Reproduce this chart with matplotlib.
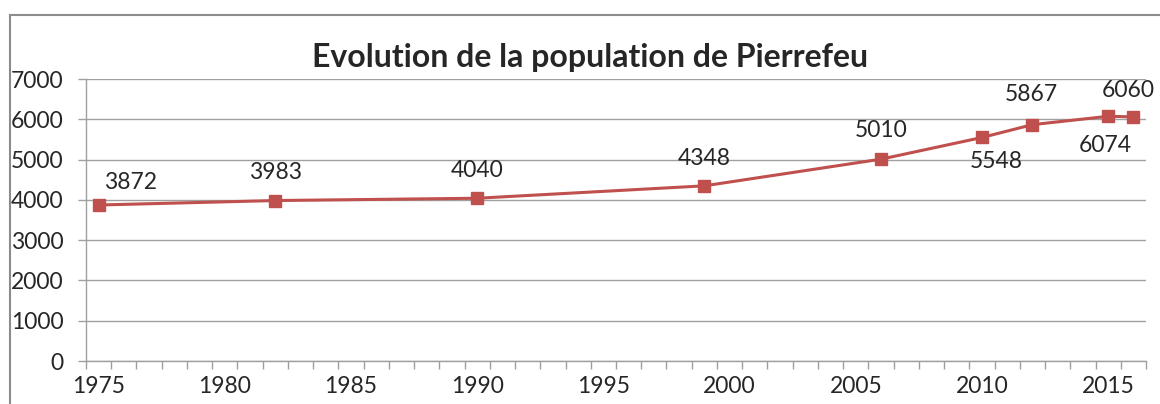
import numpy as np
import matplotlib
matplotlib.use('Agg')
import matplotlib.pyplot as plt
from matplotlib.lines import Line2D

# donnees
annees = [1975, 1982, 1990, 1999, 2006, 2010, 2012, 2015, 2016]
population = [3872, 3983, 4040, 4348, 5010, 5548, 5867, 6074, 6060]
annees_labels = [1975, 1980, 1985, 1990, 1995, 2000, 2005, 2010, 2015]
y_ticks = [0, 1000, 2000, 3000, 4000, 5000, 6000, 7000]

# decalage des etiquettes (points)
decalages = [(23, 16), (0, 20), (0, 20), (0, 20), (0, 21), (10, -17), (-1, 22), (-2, -21), (-4, 19)]

plt.rcParams['font.family'] = ['Lato', 'DejaVu Sans']

W, H = 1160, 404
fig = plt.figure(figsize=(W / 100, H / 100), dpi=100)
ax = fig.add_axes([86 / W, 1 - 361 / H, (1146 - 86) / W, (361 - 79) / H])

rouge = '#c0504d'
gris = '#a0a0a0'
texte = '#262626'

ax.plot(annees, population, color=rouge, lw=2.2, marker='s', markersize=8.5,
        markerfacecolor=rouge, markeredgecolor=rouge, zorder=3)

for x, y, (dx, dy) in zip(annees, population, decalages):
    ax.annotate(str(y), (x, y), xytext=(dx, dy), textcoords='offset points',
                ha='center', va='center', fontsize=16.5, color=texte)

ax.set_xlim(1974.5, 2016.5)
ax.set_ylim(0, 7000)
ax.set_yticks(y_ticks)
ax.set_yticklabels([str(v) for v in y_ticks], fontsize=16.5, color=texte)
ax.yaxis.grid(True, color=gris, lw=1)
ax.set_axisbelow(True)

# graduations entre les annees, etiquettes au milieu
ax.set_xticks(np.arange(1974.5, 2017, 1))
ax.set_xticklabels([])
ax.set_xticks(annees_labels, minor=True)
ax.set_xticklabels([str(a) for a in annees_labels], minor=True, fontsize=16.5, color=texte)
ax.tick_params(axis='x', which='major', direction='out', length=6, color=gris, width=1)
ax.tick_params(axis='x', which='minor', length=0, pad=11)
ax.tick_params(axis='y', direction='out', length=6, color=gris, width=1, pad=10)

for s in ['top', 'right']:
    ax.spines[s].set_visible(False)
for s in ['left', 'bottom']:
    ax.spines[s].set_color(gris)
    ax.spines[s].set_linewidth(1)

fig.text(590 / W, 1 - 58 / H, 'Evolution de la population de Pierrefeu',
         ha='center', va='center', fontsize=23, fontweight='bold', color=texte)

# cadre du graphique
fig.add_artist(Line2D([10 / W, 10 / W], [0, 1 - 15 / H], color='#8c8c8c', lw=1.5))
fig.add_artist(Line2D([10 / W, 1], [1 - 15 / H, 1 - 15 / H], color='#8c8c8c', lw=1.5))

fig.savefig('out.png', dpi=100)
